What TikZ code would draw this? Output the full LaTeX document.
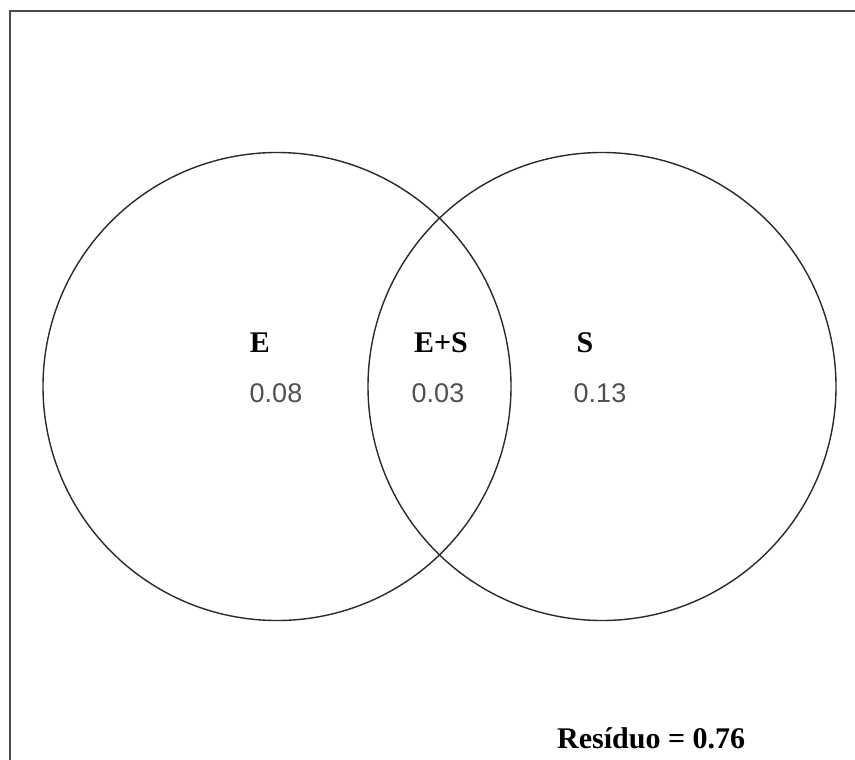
\documentclass[tikz,border=0pt]{standalone}
\usepackage{fontspec}
\setmainfont{Liberation Serif}
\newfontfamily\numfont{Liberation Sans}
\definecolor{linegray}{HTML}{2A2A2A}
\definecolor{framegray}{HTML}{4A4A4A}
\definecolor{numgray}{HTML}{505050}
\tikzset{
  venn/.style={circle, draw=linegray, line width=1.4pt, minimum size=468pt, inner sep=0pt},
  setlabel/.style={anchor=base, inner sep=0pt, font=\fontsize{30}{30}\selectfont\bfseries},
  numlabel/.style={anchor=base, inner sep=0pt, text=numgray, font=\numfont\fontsize{27}{27}\selectfont},
  frameline/.style={draw=framegray, line width=2.4pt}
}
\begin{document}
\begin{tikzpicture}[x=1pt,y=-1pt]
\useasboundingbox (0,0) rectangle (855,760);
\coordinate (fbl) at (10,762);
\coordinate (ftl) at (10,11);
\coordinate (ftr) at (857,11);
\draw[frameline] (fbl) -- (ftl) -- (ftr);
\node[venn] (cE) at (277,386.5) {};
\node[venn] (cS) at (602,386.5) {};
\node[setlabel] (lE) at (260,352) {E};
\node[setlabel] (lES) at (441,352) {E+S};
\node[setlabel] (lS) at (585,352) {S};
\node[numlabel] (nE) at (276,402) {0.08};
\node[numlabel] (nES) at (438,402) {0.03};
\node[numlabel] (nS) at (600,402) {0.13};
\node[setlabel, anchor=base west] (res) at (557,748) {Resíduo = 0.76};
\end{tikzpicture}
\end{document}
